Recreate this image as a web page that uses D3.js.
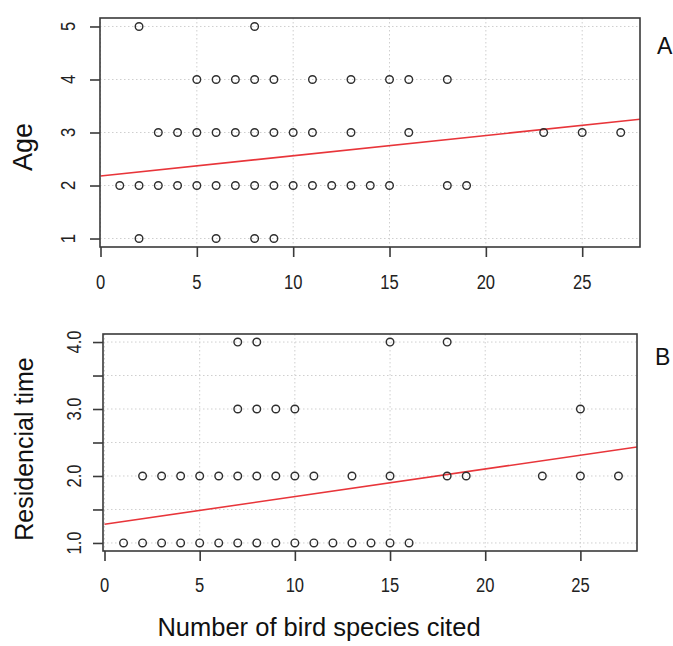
<!DOCTYPE html>
<html>
<head>
<meta charset="utf-8">
<script src="https://cdn.jsdelivr.net/npm/d3@7"></script>
<style>
  html, body { margin: 0; padding: 0; background: #fff; }
  svg { display: block; font-family: "Liberation Sans", Arial, sans-serif; }
</style>
</head>
<body>
<svg id="chart" width="673" height="646"></svg>
<script>
// ---- Data ----
// Panel A: Age vs number of bird species cited
const ageSpecies = [2, 8,
  5, 6, 7, 8, 9, 11, 13, 15, 16, 18,
  3, 4, 5, 6, 7, 8, 9, 10, 11, 13, 16, 23, 25, 27,
  1, 2, 3, 4, 5, 6, 7, 8, 9, 10, 11, 12, 13, 14, 15, 18, 19,
  2, 6, 8, 9];
const ageValues = [5, 5,
  4, 4, 4, 4, 4, 4, 4, 4, 4, 4,
  3, 3, 3, 3, 3, 3, 3, 3, 3, 3, 3, 3, 3, 3,
  2, 2, 2, 2, 2, 2, 2, 2, 2, 2, 2, 2, 2, 2, 2, 2, 2,
  1, 1, 1, 1];
const ageFit = { intercept: 2.18, slope: 0.0382 };
const ageTicks = [1, 2, 3, 4, 5];

// Panel B: Residencial time vs number of bird species cited
const resSpecies = [7, 8, 15, 18,
  7, 8, 9, 10, 25,
  2, 3, 4, 5, 6, 7, 8, 9, 10, 11, 13, 15, 18, 19, 23, 25, 27,
  1, 2, 3, 4, 5, 6, 7, 8, 9, 10, 11, 12, 13, 14, 15, 16];
const resValues = [4, 4, 4, 4,
  3, 3, 3, 3, 3,
  2, 2, 2, 2, 2, 2, 2, 2, 2, 2, 2, 2, 2, 2, 2, 2, 2,
  1, 1, 1, 1, 1, 1, 1, 1, 1, 1, 1, 1, 1, 1, 1, 1];
const resFit = { intercept: 1.28, slope: 0.0412 };
const resTicks = [1, 1.5, 2, 2.5, 3, 3.5, 4];
const resLabelTicks = [1, 2, 3, 4];

const xTicks = [0, 5, 10, 15, 20, 25];
const xMax = 28;

// ---- Drawing ----
const svg = d3.select("#chart");
const TICK_FONT = 19.5, TICK_SQUEEZE = 0.85;

function panel(cfg) {
  const g = svg.append("g");
  const x = d3.scaleLinear().domain([0, xMax]).range([cfg.x0, cfg.x1]);
  const y = d3.scaleLinear().domain(cfg.yDomain).range([cfg.y1, cfg.y0]);

  const clipId = "clip-" + cfg.id;
  svg.append("clipPath").attr("id", clipId)
    .append("rect").attr("x", cfg.bx0).attr("y", cfg.y0)
    .attr("width", cfg.bx1 - cfg.bx0).attr("height", cfg.y1 - cfg.y0);

  // grid
  const grid = g.append("g").attr("stroke", "#cfcfcf").attr("stroke-width", 1)
    .attr("stroke-dasharray", "1.5,2.5");
  grid.selectAll("line.v").data(xTicks).join("line")
    .attr("x1", d => x(d)).attr("x2", d => x(d))
    .attr("y1", cfg.y0).attr("y2", cfg.y1);
  grid.selectAll("line.h").data(cfg.gridY).join("line")
    .attr("x1", cfg.bx0).attr("x2", cfg.bx1)
    .attr("y1", d => y(d)).attr("y2", d => y(d));

  // regression line
  g.append("line")
    .attr("clip-path", `url(#${clipId})`)
    .attr("x1", x(0)).attr("y1", y(cfg.fit.intercept))
    .attr("x2", cfg.bx1).attr("y2", y(cfg.fit.intercept + cfg.fit.slope * x.invert(cfg.bx1)))
    .attr("stroke", "#e8353a").attr("stroke-width", 1.6);

  // points
  g.append("g").selectAll("circle").data(cfg.xs.map((d, i) => [d, cfg.ys[i]])).join("circle")
    .attr("cx", d => x(d[0])).attr("cy", d => y(d[1])).attr("r", 3.8)
    .attr("fill", "none").attr("stroke", "#2e2e2e").attr("stroke-width", 1.4);

  // box
  g.append("rect").attr("x", cfg.bx0).attr("y", cfg.y0)
    .attr("width", cfg.bx1 - cfg.bx0).attr("height", cfg.y1 - cfg.y0)
    .attr("fill", "none").attr("stroke", "#3a3a3a").attr("stroke-width", 1.6);

  // x axis ticks
  const xa = g.append("g").attr("transform", `translate(0,${cfg.y1})`)
    .call(d3.axisBottom(x).tickValues(xTicks).tickSize(10).tickFormat(""));
  xa.select(".domain").remove();
  xa.selectAll(".tick line").attr("stroke", "#3a3a3a").attr("stroke-width", 1.6);

  // x tick labels
  g.append("g").selectAll("text").data(xTicks).join("text")
    .attr("transform", d => `translate(${x(d)},${cfg.xLabelY}) scale(${TICK_SQUEEZE},1)`)
    .attr("text-anchor", "middle").attr("font-size", TICK_FONT).attr("fill", "#222")
    .text(d => d3.format("d")(d));

  // y axis ticks
  const ya = g.append("g").attr("transform", `translate(${cfg.bx0},0)`)
    .call(d3.axisLeft(y).tickValues(cfg.yTicks).tickSize(10).tickFormat(""));
  ya.select(".domain").remove();
  ya.selectAll(".tick line").attr("stroke", "#3a3a3a").attr("stroke-width", 1.6);

  // y tick labels (rotated as in R)
  g.append("g").selectAll("text").data(cfg.yLabelTicks).join("text")
    .attr("transform", d => `translate(${cfg.yLabelX},${y(d)}) rotate(-90) scale(${TICK_SQUEEZE},1)`)
    .attr("text-anchor", "middle").attr("font-size", TICK_FONT).attr("fill", "#222")
    .text(d => cfg.yFormat(d));

  // y title
  svg.append("text")
    .attr("transform", `translate(${cfg.titleX},${cfg.titleY}) rotate(-90)`)
    .attr("text-anchor", "middle").attr("font-size", cfg.titleSize).attr("fill", "#111")
    .text(cfg.title);

  // panel letter
  svg.append("text").attr("x", cfg.letterX).attr("y", cfg.letterY)
    .attr("font-size", 23).attr("fill", "#111")
    .text(cfg.letter);
}

panel({
  id: "a", x0: 100.5, x1: 640, bx0: 100, bx1: 640, y0: 18, y1: 247,
  yDomain: [0.84, 5.16], gridY: ageTicks, yTicks: ageTicks, yLabelTicks: ageTicks,
  yFormat: d3.format("d"), yLabelX: 75, xLabelY: 289,
  xs: ageSpecies, ys: ageValues, fit: ageFit,
  title: "Age", titleX: 32, titleY: 147, titleSize: 27,
  letter: "A", letterX: 657, letterY: 54
});

panel({
  id: "b", x0: 104.5, x1: 637.5, bx0: 103, bx1: 637, y0: 334, y1: 551,
  yDomain: [0.88, 4.12], gridY: resTicks, yTicks: resTicks, yLabelTicks: resLabelTicks,
  yFormat: d3.format(".1f"), yLabelX: 81, xLabelY: 592,
  xs: resSpecies, ys: resValues, fit: resFit,
  title: "Residencial time", titleX: 33, titleY: 449, titleSize: 25,
  letter: "B", letterX: 655, letterY: 365
});

svg.append("text").attr("x", 319).attr("y", 636)
  .attr("text-anchor", "middle").attr("font-size", 25.5).attr("fill", "#111")
  .text("Number of bird species cited");
</script>
</body>
</html>
